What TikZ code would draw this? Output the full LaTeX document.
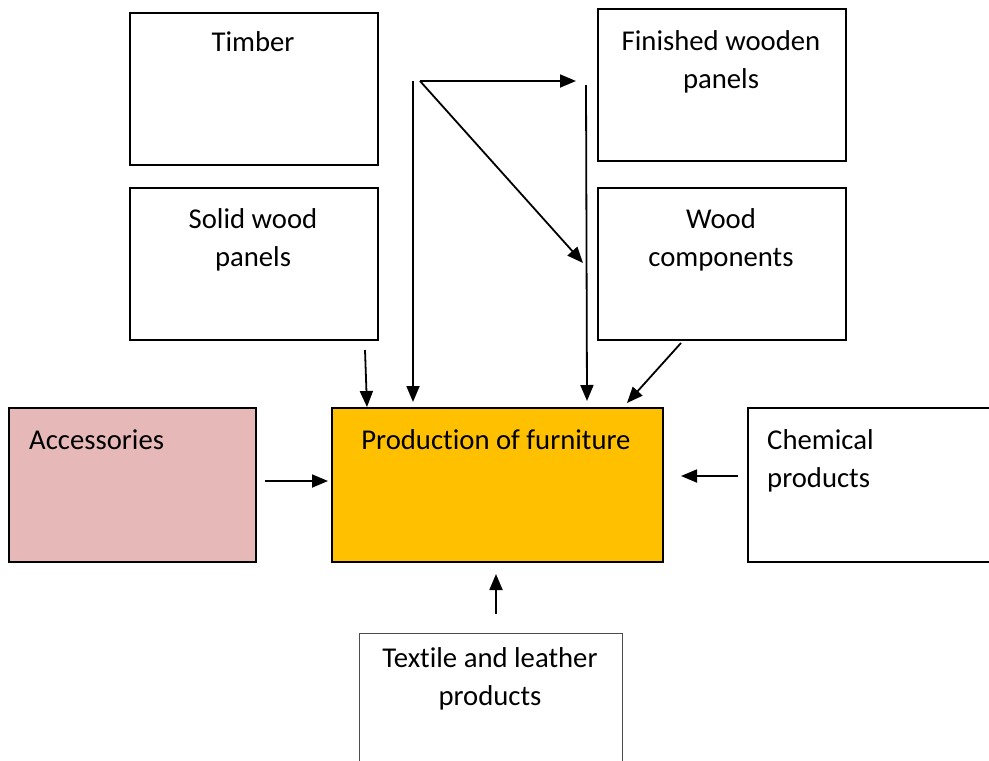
\documentclass[tikz,border=0pt]{standalone}
\usepackage{fontspec}
\setmainfont[Ligatures={NoCommon}]{Carlito}
\usetikzlibrary{arrows.meta}
\definecolor{pinkfill}{HTML}{E6B8B7}
\definecolor{orangefill}{HTML}{FFC000}
\begin{document}
\begin{tikzpicture}[x=1pt,y=-1pt,
  box/.style={draw=black,line width=1.8pt,rectangle,inner sep=0pt,anchor=north west},
  lbl/.style={font=\fontsize{28.7}{38}\selectfont,align=center,inner sep=0pt,anchor=base},
  lbll/.style={font=\fontsize{28.7}{38}\selectfont,align=left,inner sep=0pt,anchor=base west},
  arr/.style={line width=1.8pt,-{Triangle[length=16pt,width=13pt]}}]
\useasboundingbox (0,0) rectangle (989,761);
\clip (0,0) rectangle (989,761);
% boxes
\node[box,minimum width=248,minimum height=152] (timber) at (129,12) {};
\node[box,minimum width=248,minimum height=152] (fwp) at (597,8) {};
\node[box,minimum width=248,minimum height=152] (swp) at (129,187) {};
\node[box,minimum width=248,minimum height=152] (wc) at (597,187) {};
\node[box,fill=pinkfill,minimum width=247,minimum height=154] (acc) at (8,407) {};
\node[box,fill=orangefill,minimum width=331,minimum height=154] (prod) at (331,407) {};
\node[box,minimum width=260,minimum height=154] (chem) at (747,407) {};
\node[box,draw=black!70,line width=1.2pt,minimum width=263,minimum height=150] (tex) at (359,633) {};
% labels (anchor = baseline of last line)
\node[lbl] (timberT) at (253,51) {Timber};
\node[lbl] (fwpT) at (721,88) {Finished wooden\\panels};
\node[lbl] (swpT) at (253,266) {Solid wood\\panels};
\node[lbl] (wcT) at (721,266) {Wood\\components};
\node[lbll] (accT) at (29,449) {Accessories};
\node[lbl] (prodT) at (496,449) {Production of furniture};
\node[lbll] (chemT) at (767,487) {Chemical\\products};
\node[lbl] (texT) at (490,705) {Textile and leather\\products};
% connector coordinates
\coordinate (s1) at (365,350); \coordinate (e1) at (367,407);
\coordinate (s2) at (413,81);  \coordinate (e2) at (413,402);
\coordinate (j)  at (420,81);
\coordinate (e3) at (576,81);
\coordinate (e4) at (583,263);
\coordinate (s5) at (586,85);  \coordinate (e5) at (587,401);
\coordinate (s6) at (681,343); \coordinate (e6) at (627,403);
\coordinate (s7) at (265,481); \coordinate (e7) at (328,481);
\coordinate (s8) at (738,476); \coordinate (e8) at (681,476);
\coordinate (s9) at (496,614); \coordinate (e9) at (496,574);
% connectors
\draw[arr] (s1) -- (e1);
\draw[arr] (s2) -- (e2);
\draw[arr] (j) -- (e3);
\draw[arr] (j) -- (e4);
\draw[arr] (s5) -- (e5);
\draw[arr] (s6) -- (e6);
\draw[arr] (s7) -- (e7);
\draw[arr] (s8) -- (e8);
\draw[arr] (s9) -- (e9);
\end{tikzpicture}
\end{document}
